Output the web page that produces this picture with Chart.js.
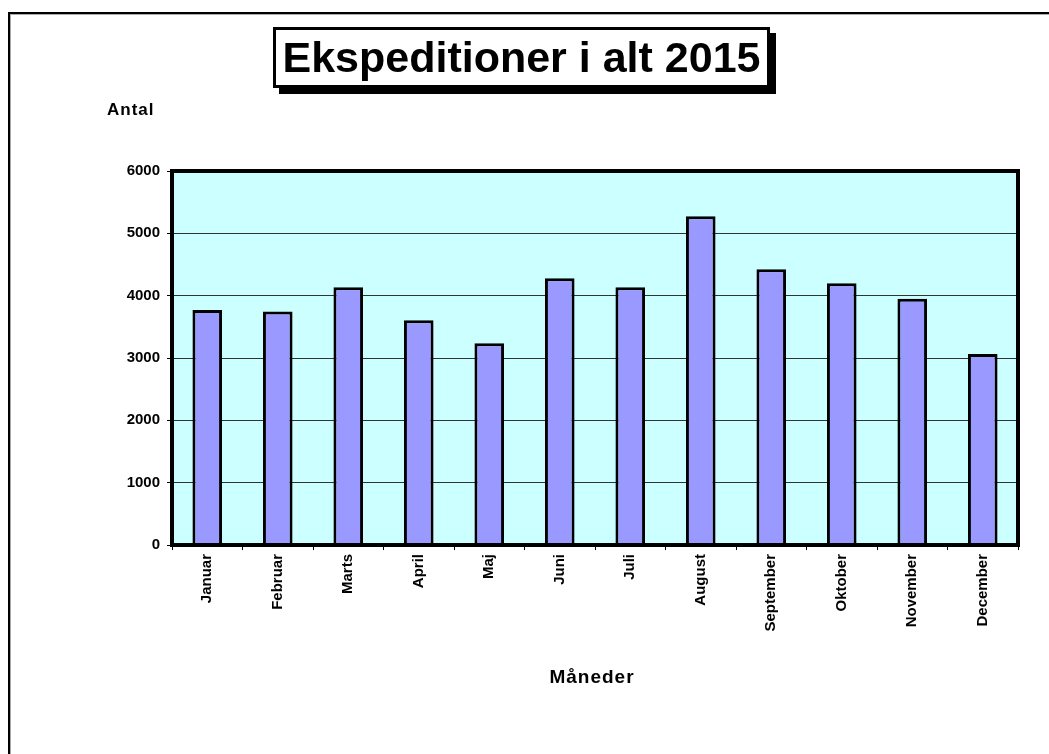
<!DOCTYPE html>
<html>
<head>
<meta charset="utf-8">
<script src="https://cdn.jsdelivr.net/npm/chart.js@4"></script>
<style>
  html, body { margin: 0; padding: 0; background: #fff; overflow: hidden; }
  #page { position: relative; width: 1049px; height: 754px; overflow: hidden; font-family: "Liberation Sans", Arial, sans-serif; }
  #frame { position: absolute; left: 8px; top: 12px; width: 3000px; height: 3000px; border-top: 2px solid #000; border-left: 2px solid #000; box-shadow: inset 1px 1px 0 #aaa; }
  #wrap { position: absolute; left: 0; top: 0; width: 1049px; height: 754px; }
  #title { position: absolute; left: 273px; top: 27px; width: 491px; height: 55px; border: 3px solid #000; background: #fff; box-shadow: 6px 6px 0 #000; font-weight: bold; font-size: 43px; line-height: 55px; text-align: center; color: #000; white-space: nowrap; }
  #ylab { position: absolute; left: 107px; top: 100px; font-weight: bold; font-size: 17px; letter-spacing: 1px; color: #000; }
  #xlab { position: absolute; left: 0; width: 1184px; top: 666px; text-align: center; font-weight: bold; font-size: 19px; letter-spacing: 1px; color: #000; }
</style>
</head>
<body>
<div id="page">
  <div id="frame"></div>
  <div id="wrap"><canvas id="c"></canvas></div>
  <div id="title">Ekspeditioner i alt 2015</div>
  <div id="ylab">Antal</div>
  <div id="xlab">Måneder</div>
</div>
<script>
const categories = ["Januar", "Februar", "Marts", "April", "Maj", "Juni", "Juli", "August", "September", "Oktober", "November", "December"];
const values = [3770, 3745, 4135, 3605, 3235, 4280, 4135, 5275, 4425, 4200, 3950, 3065];
const yMin = 0;
const yMax = 6000;
const yStep = 1000;

const plotBg = {
  id: 'plotBg',
  beforeDraw(chart) {
    const a = chart.chartArea, ctx = chart.ctx;
    ctx.save();
    ctx.fillStyle = '#CCFFFF';
    ctx.fillRect(a.left, a.top, a.right - a.left, a.bottom - a.top);
    ctx.restore();
  },
  afterDraw(chart) {
    const a = chart.chartArea, ctx = chart.ctx;
    ctx.save();
    ctx.strokeStyle = '#000';
    ctx.lineWidth = 4;
    ctx.strokeRect(a.left, a.top, a.right - a.left, a.bottom - a.top);
    ctx.restore();
  }
};

new Chart(document.getElementById('c'), {
  type: 'bar',
  data: {
    labels: categories,
    datasets: [{
      data: values,
      backgroundColor: '#9999FF',
      borderColor: '#000',
      borderWidth: 3,
      categoryPercentage: 1,
      barPercentage: 0.42
    }]
  },
  options: {
    responsive: true,
    maintainAspectRatio: false,
    animation: false,
    devicePixelRatio: 1,
    layout: { padding: { left: 0, top: 171, right: 31, bottom: 0 } },
    plugins: { legend: { display: false }, tooltip: { enabled: false }, title: { display: false } },
    scales: {
      x: {
        afterFit(s) { s.height = 209; },
        grid: { display: true, drawOnChartArea: false, drawTicks: true, tickLength: 5, tickColor: '#000', offset: true },
        border: { display: false },
        ticks: {
          autoSkip: false, maxRotation: 90, minRotation: 90, padding: 4,
          color: '#000', font: { family: '"Liberation Sans", Arial, sans-serif', weight: 'bold', size: 15 }
        }
      },
      y: {
        min: yMin, max: yMax,
        afterFit(s) { s.width = 172; },
        grid: { color: '#333', lineWidth: 1, drawTicks: true, tickLength: 5, tickColor: '#000' },
        border: { display: false },
        ticks: {
          stepSize: yStep, padding: 7, color: '#000',
          callback: (v) => String(v),
          font: { family: '"Liberation Sans", Arial, sans-serif', weight: 'bold', size: 15 }
        }
      }
    }
  },
  plugins: [plotBg]
});
</script>
</body>
</html>
